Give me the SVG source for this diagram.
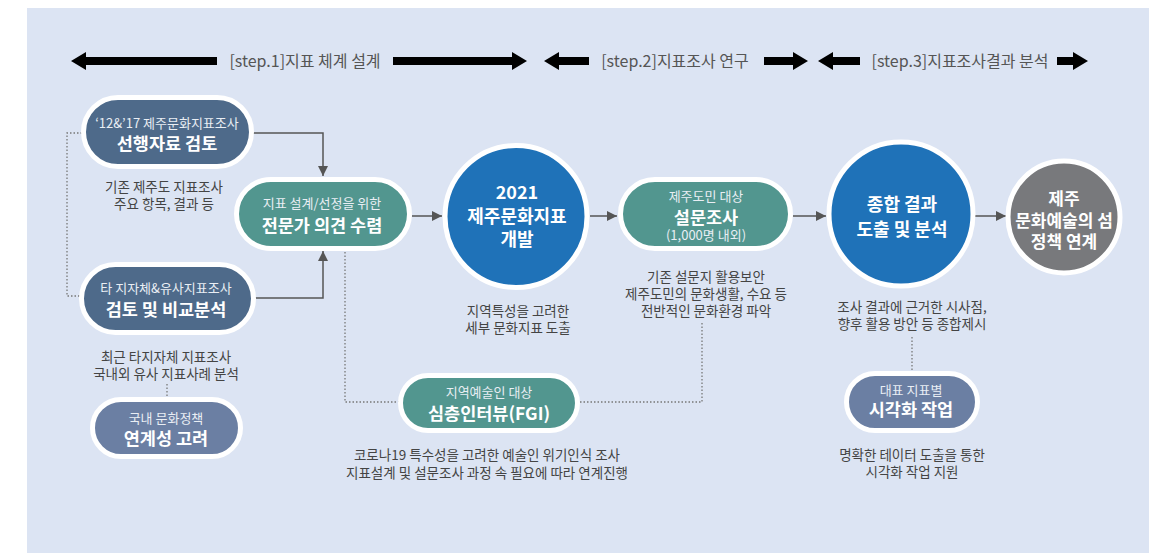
<svg xmlns="http://www.w3.org/2000/svg" width="1166" height="553" viewBox="0 0 1166 553">
<defs>
<style>
text{font-family:"Noto Sans CJK KR","Noto Sans",sans-serif;text-anchor:middle}
.step{font-size:16px;fill:#555}
.sm{font-size:13px;fill:#e9eef4}
.bd{font-size:17.5px;font-weight:700;fill:#fff}
.cap{font-size:13.5px;fill:#444}
.ct{font-size:18px;font-weight:700;fill:#fff}
.pill{stroke:#fff;stroke-width:5}
.dark{fill:#4e6a8a}
.light{fill:#6b7fa3}
.teal{fill:#52968f}
.blue{fill:#1f72b8}
.gray{fill:#78797c}
.conn{fill:none;stroke:#555;stroke-width:1.5}
.dot{fill:none;stroke:#777;stroke-width:1.3;stroke-dasharray:1.5 2}
.big{fill:#000}
</style>
<marker id="ah" viewBox="0 0 10 10" refX="10" refY="5" markerWidth="11" markerHeight="10" markerUnits="userSpaceOnUse" orient="auto">
<path d="M0,0 L10,5 L0,10 z" fill="#555"/>
</marker>
</defs>
<rect x="27" y="8" width="1122" height="545" fill="#dce4f3"/>

<g id="steps">
<polygon class="big" points="71,61 86,52 86,57 217,57 217,65 86,65 86,70"/>
<text class="step" x="305" y="66.5">[step.1]지표 체계 설계</text>
<polygon class="big" points="527,61 512,52 512,57 393,57 393,65 512,65 512,70"/>
<polygon class="big" points="544,61 559,52 559,57 589,57 589,65 559,65 559,70"/>
<text class="step" x="675" y="66.5">[step.2]지표조사 연구</text>
<polygon class="big" points="808,61 793,52 793,57 764,57 764,65 793,65 793,70"/>
<polygon class="big" points="818,61 833,52 833,57 860,57 860,65 833,65 833,70"/>
<text class="step" x="960" y="66.5">[step.3]지표조사결과 분석</text>
<polygon class="big" points="1088,61 1073,52 1073,57 1057,57 1057,65 1073,65 1073,70"/>
</g>

<g id="connectors">
<path class="conn" d="M253,133 H323 V176" marker-end="url(#ah)"/>
<path class="conn" d="M255,298 H323 V251" marker-end="url(#ah)"/>
<path class="conn" d="M412,216 H442" marker-end="url(#ah)"/>
<path class="conn" d="M590,216 H617" marker-end="url(#ah)"/>
<path class="conn" d="M793,216 H826" marker-end="url(#ah)"/>
<path class="conn" d="M975,216 H1006" marker-end="url(#ah)"/>
<path class="dot" d="M82,133 H67 V296 H80"/>
<path class="dot" d="M345,252 V402 H399"/>
<path class="dot" d="M580,402 H702 V323"/>
<path class="dot" d="M167,384 V397"/>
<path class="dot" d="M912,337 V371"/>
</g>

<g id="n1">
<rect class="pill dark" x="83.5" y="97.5" width="168" height="69" rx="34.5"/>
<text class="sm" x="167" y="127.5">‘12&amp;’17 제주문화지표조사</text>
<text class="bd" x="167" y="149.5">선행자료 검토</text>
<text class="cap" x="164" y="192">기존 제주도 지표조사</text>
<text class="cap" x="164" y="209">주요 항목, 결과 등</text>
</g>

<g id="n2">
<rect class="pill dark" x="81.5" y="264.5" width="172" height="68" rx="34"/>
<text class="sm" x="166" y="292.5">타 지자체&amp;유사지표조사</text>
<text class="bd" x="166" y="315.5">검토 및 비교분석</text>
<text class="cap" x="166" y="362">최근 타지자체 지표조사</text>
<text class="cap" x="166" y="379">국내외 유사 지표사례 분석</text>
</g>

<g id="n3">
<rect class="pill light" x="92.5" y="399.5" width="148" height="57" rx="28.5"/>
<text class="sm" x="166" y="422.5">국내 문화정책</text>
<text class="bd" x="166" y="444.5">연계성 고려</text>
</g>

<g id="n4">
<rect class="pill teal" x="236.5" y="179.5" width="173" height="69" rx="34.5"/>
<text class="sm" x="322" y="207.5">지표 설계/선정을 위한</text>
<text class="bd" x="322" y="232">전문가 의견 수렴</text>
</g>

<g id="c1">
<circle class="pill blue" cx="516" cy="216.5" r="71" stroke-width="4"/>
<text class="ct" x="517" y="199">2021</text>
<text class="ct" x="517" y="222.5">제주문화지표</text>
<text class="ct" x="517" y="246">개발</text>
<text class="cap" x="518" y="316">지역특성을 고려한</text>
<text class="cap" x="518" y="333">세부 문화지표 도출</text>
</g>

<g id="n5">
<rect class="pill teal" x="620.5" y="179.5" width="170" height="69" rx="34.5"/>
<text class="sm" x="706" y="201">제주도민 대상</text>
<text class="bd" x="706" y="224">설문조사</text>
<text class="sm" x="706" y="240">(1,000명 내외)</text>
<text class="cap" x="706" y="282">기존 설문지 활용보안</text>
<text class="cap" x="706" y="299">제주도민의 문화생활, 수요 등</text>
<text class="cap" x="706" y="316">전반적인 문화환경 파악</text>
</g>

<g id="c2">
<circle class="pill blue" cx="901" cy="214" r="72" stroke-width="4"/>
<text class="ct" x="902" y="211">종합 결과</text>
<text class="ct" x="902" y="235.5">도출 및 분석</text>
<text class="cap" x="912" y="312">조사 결과에 근거한 시사점,</text>
<text class="cap" x="912" y="329">향후 활용 방안 등 종합제시</text>
</g>

<g id="c3">
<circle class="pill gray" cx="1064" cy="217" r="56" stroke-width="4"/>
<text class="ct" x="1064" y="205" style="font-size:17px">제주</text>
<text class="ct" x="1064" y="226.5" style="font-size:17px">문화예술의 섬</text>
<text class="ct" x="1064" y="248" style="font-size:17px">정책 연계</text>
</g>

<g id="n6">
<rect class="pill teal" x="400.5" y="375.5" width="177" height="55" rx="27.5"/>
<text class="sm" x="489" y="396.5">지역예술인 대상</text>
<text class="bd" x="489" y="419.5">심층인터뷰(FGI)</text>
<text class="cap" x="487" y="460">코로나19 특수성을 고려한 예술인 위기인식 조사</text>
<text class="cap" x="487" y="477.5">지표설계 및 설문조사 과정 속 필요에 따라 연계진행</text>
</g>

<g id="n7">
<rect class="pill light" x="846.5" y="373.5" width="131" height="57" rx="28.5"/>
<text class="sm" x="911" y="394.5">대표 지표별</text>
<text class="bd" x="911" y="415.5">시각화 작업</text>
<text class="cap" x="912" y="460">명확한 테이터 도출을 통한</text>
<text class="cap" x="912" y="477">시각화 작업 지원</text>
</g>
</svg>
